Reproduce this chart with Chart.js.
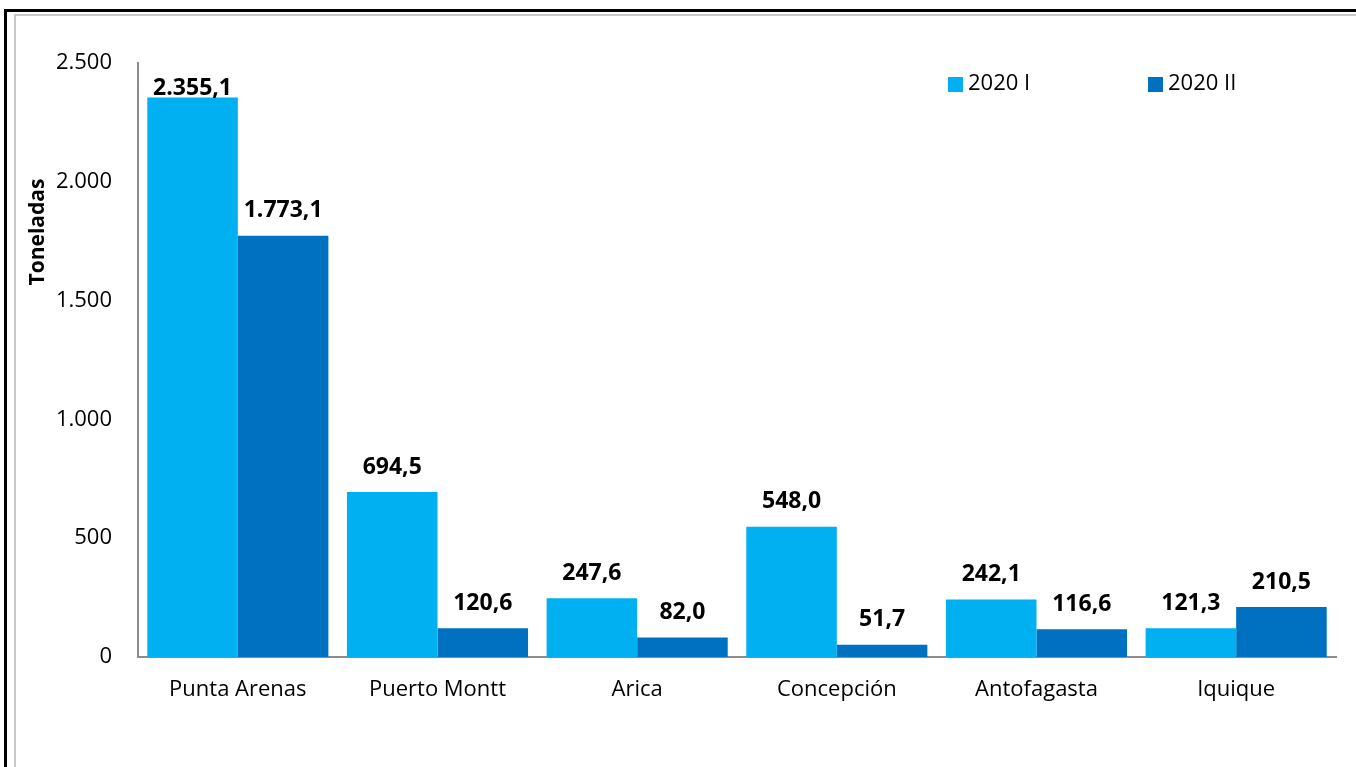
<!DOCTYPE html>
<html>
<head>
<meta charset="utf-8">
<script src="https://cdn.jsdelivr.net/npm/chart.js@4.4.1/dist/chart.umd.min.js"></script>
<style>
    html, body { margin: 0; padding: 0; background: #ffffff; overflow: hidden; }
    #wrap { position: relative; width: 1356px; height: 767px; }
    #chart { position: absolute; left: 0; top: 0; }
    .frame-outer { position: absolute; left: 4px; top: 9px; width: 1400px; height: 800px; border-left: 3px solid #000; border-top: 3px solid #000; pointer-events: none; }
    .frame-inner { position: absolute; left: 14px; top: 14px; width: 1400px; height: 800px; border-left: 2px solid #c8c8c8; border-top: 2px solid #c8c8c8; pointer-events: none; }
</style>
</head>
<body>
<div id="wrap">
    <canvas id="chart" width="1356" height="767"></canvas>
    <div class="frame-outer"></div>
    <div class="frame-inner"></div>
</div>
<script>
    var categories = ["Punta Arenas", "Puerto Montt", "Arica", "Concepción", "Antofagasta", "Iquique"];
    var seriesNames = ["2020 I", "2020 II"];
    var values2020I = [2355.1, 694.5, 247.6, 548.0, 242.1, 121.3];
    var values2020II = [1773.1, 120.6, 82.0, 51.7, 116.6, 210.5];
    var yTicks = [0, 500, 1000, 1500, 2000, 2500];
    var yTitle = "Toneladas";

    var colors = ['#00b0f0', '#0070c0'];
    var fontFamily = '"Open Sans", "DejaVu Sans", sans-serif';

    function groupThousands(intPart) {
        return intPart.replace(/\B(?=(\d{3})+(?!\d))/g, '.');
    }

    function formatLabel(value) {
        var parts = value.toFixed(1).split('.');
        return groupThousands(parts[0]) + ',' + parts[1];
    }

    // etiquetas de valor encima de cada barra
    var valueLabels = {
        id: 'valueLabels',
        afterDatasetsDraw: function (chart) {
            var ctx = chart.ctx;
            var area = chart.chartArea;
            ctx.save();
            ctx.font = 'bold 23px ' + fontFamily;
            ctx.fillStyle = '#000000';
            ctx.textAlign = 'center';
            ctx.textBaseline = 'middle';
            chart.data.datasets.forEach(function (ds, i) {
                var meta = chart.getDatasetMeta(i);
                meta.data.forEach(function (bar, j) {
                    var y = Math.max(bar.y - 25, area.top + 25);
                    ctx.fillText(formatLabel(ds.data[j]), bar.x, y);
                });
            });
            ctx.restore();
        }
    };

    // leyenda dentro del área del gráfico y título del eje
    var extras = {
        id: 'extras',
        afterDraw: function (chart) {
            var ctx = chart.ctx;
            ctx.save();
            ctx.font = '22px ' + fontFamily;
            ctx.textBaseline = 'middle';
            ctx.textAlign = 'left';
            var legendX = [948, 1148];
            chart.data.datasets.forEach(function (ds, i) {
                ctx.fillStyle = ds.backgroundColor;
                ctx.fillRect(legendX[i], 77, 15, 15);
                ctx.fillStyle = '#000000';
                ctx.fillText(ds.label, legendX[i] + 20, 84);
            });

            ctx.translate(38, 232);
            ctx.rotate(-Math.PI / 2);
            ctx.font = 'bold 21px ' + fontFamily;
            ctx.textAlign = 'center';
            ctx.fillText(yTitle, 0, 0);
            ctx.restore();
        }
    };

    var ctx = document.getElementById('chart').getContext('2d');
    new Chart(ctx, {
        type: 'bar',
        data: {
            labels: categories,
            datasets: [{
                label: seriesNames[0],
                data: values2020I,
                backgroundColor: colors[0],
                borderWidth: 0
            }, {
                label: seriesNames[1],
                data: values2020II,
                backgroundColor: colors[1],
                borderWidth: 0
            }]
        },
        options: {
            responsive: false,
            animation: false,
            devicePixelRatio: 1,
            layout: { padding: { left: 0, top: 63, right: 20, bottom: 0 } },
            datasets: {
                bar: { categoryPercentage: 0.907, barPercentage: 1.0 }
            },
            plugins: {
                legend: { display: false },
                tooltip: { enabled: false }
            },
            scales: {
                x: {
                    grid: { display: false, drawTicks: false },
                    border: { display: true, color: '#8c8c8c', width: 2 },
                    ticks: {
                        padding: 20,
                        color: '#000000',
                        font: { family: fontFamily, size: 22 }
                    },
                    afterFit: function (scale) { scale.height = 110; }
                },
                y: {
                    min: yTicks[0],
                    max: yTicks[yTicks.length - 1],
                    afterBuildTicks: function (scale) {
                        scale.ticks = yTicks.map(function (v) { return { value: v }; });
                    },
                    grid: { display: false, drawTicks: false },
                    border: { display: true, color: '#8c8c8c', width: 2 },
                    ticks: {
                        padding: 26,
                        color: '#000000',
                        font: { family: fontFamily, size: 22 },
                        callback: function (value) { return groupThousands(String(value)); }
                    },
                    afterFit: function (scale) { scale.width = 138; }
                }
            }
        },
        plugins: [valueLabels, extras]
    });
</script>
</body>
</html>
